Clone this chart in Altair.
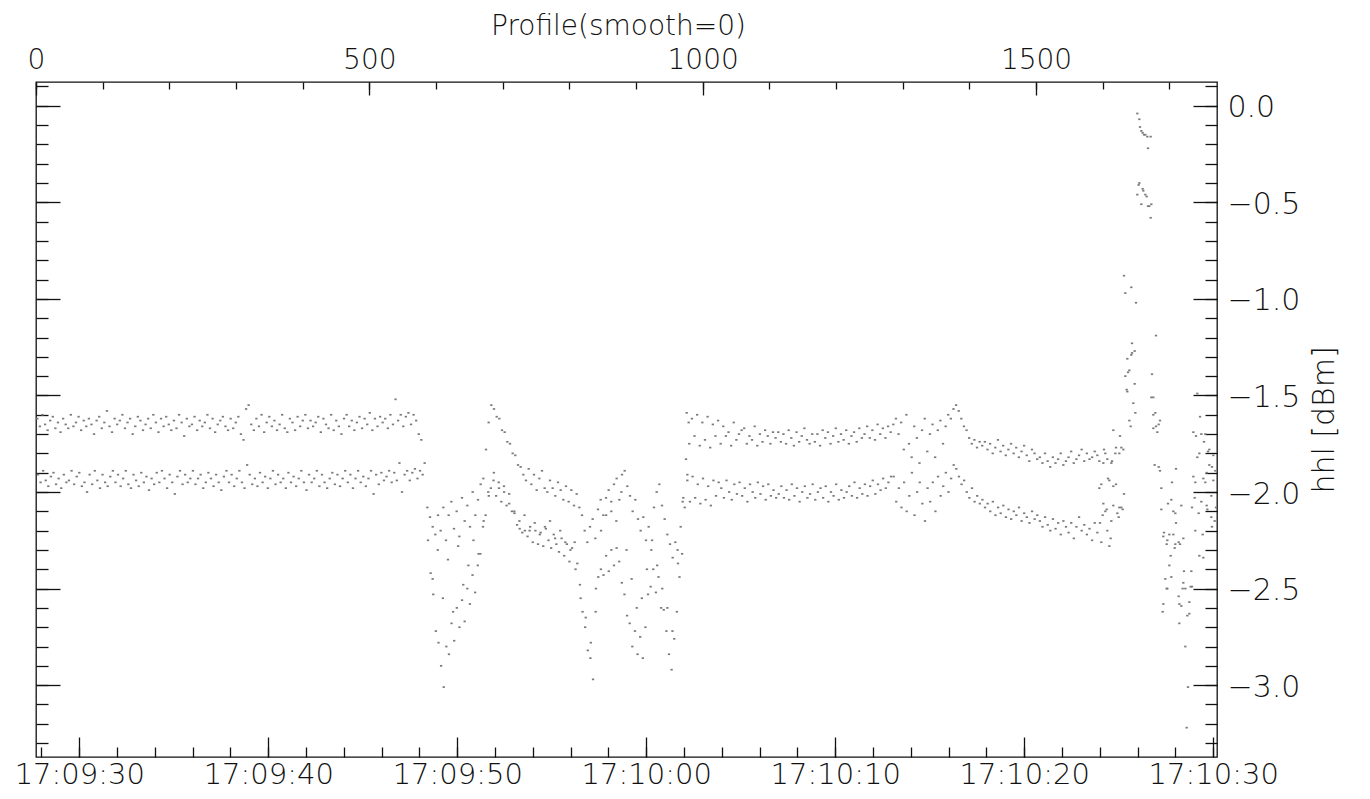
import altair as alt
import numpy as np
import pandas as pd

# ---------------- data (hhl in dBm) ----------------
# Segment A: two interleaved bands, profiles ~2..580
A_up = [-1.62,-1.66,-1.60,-1.65,-1.68,-1.63,-1.61,-1.67,-1.64,-1.69,-1.62,-1.65,-1.67,-1.60,-1.66,
        -1.64,-1.61,-1.68,-1.63,-1.66,-1.62,-1.65,-1.70,-1.63,-1.61,-1.67,-1.64,-1.58,-1.66,-1.69,
        -1.62,-1.65,-1.63,-1.60,-1.67,-1.64,-1.62,-1.70,-1.66,-1.61,-1.63,-1.68,-1.65,-1.62,-1.67,
        -1.60,-1.64,-1.69,-1.62,-1.66,-1.61,-1.65,-1.68,-1.63,-1.67,-1.60,-1.64,-1.71,-1.62,-1.66,
        -1.65,-1.61,-1.68,-1.63,-1.66,-1.64,-1.60,-1.67,-1.62,-1.69,-1.65,-1.63,-1.61,-1.66,-1.68,
        -1.62,-1.67,-1.64,-1.61,-1.70,-1.73,-1.57,-1.55,-1.65,-1.68,-1.62,-1.66,-1.60,-1.69,-1.64,
        -1.61,-1.66,-1.63,-1.68,-1.65,-1.60,-1.67,-1.69,-1.62,-1.64,-1.68,-1.61,-1.66,-1.63,-1.60,
        -1.67,-1.63,-1.66,-1.64,-1.61,-1.69,-1.62,-1.65,-1.67,-1.60,-1.68,-1.63,-1.66,-1.70,-1.62,
        -1.60,-1.66,-1.63,-1.68,-1.64,-1.61,-1.67,-1.62,-1.65,-1.59,-1.68,-1.62,-1.66,-1.61,-1.64,
        -1.62,-1.67,-1.60,-1.65,-1.52,-1.63,-1.60,-1.66,-1.61,-1.59,-1.65,-1.60,-1.63,-1.70,-1.73]
A_lo = [-1.91,-1.95,-1.89,-1.94,-1.97,-1.92,-1.90,-1.96,-1.93,-1.98,-1.91,-1.95,-1.94,-1.89,-1.96,
        -1.92,-1.90,-1.97,-1.95,-2.00,-1.91,-1.96,-1.89,-1.94,-1.98,-1.91,-1.95,-1.97,-1.92,-1.89,
        -1.95,-1.91,-1.97,-1.93,-1.89,-1.96,-1.98,-1.91,-1.94,-1.97,-1.90,-1.95,-1.92,-1.99,-1.93,
        -1.96,-1.90,-1.95,-1.89,-1.93,-1.98,-1.91,-1.95,-2.01,-1.92,-1.89,-1.96,-1.91,-1.95,-1.93,
        -1.89,-1.96,-1.93,-1.91,-1.98,-1.95,-1.90,-1.93,-1.97,-1.91,-1.95,-1.99,-1.92,-1.89,-1.95,
        -1.91,-1.97,-1.93,-1.89,-1.95,-1.98,-1.86,-1.91,-1.96,-1.93,-1.97,-1.90,-1.95,-1.92,-1.98,
        -1.93,-1.89,-1.96,-1.91,-1.95,-1.93,-1.98,-1.90,-1.95,-1.92,-1.97,-1.93,-1.89,-1.95,-1.99,
        -1.91,-1.95,-1.93,-1.89,-1.97,-1.91,-1.95,-1.98,-1.93,-1.90,-1.96,-1.91,-1.97,-1.93,-1.89,
        -1.95,-1.91,-1.98,-1.93,-1.89,-1.95,-1.92,-1.97,-1.93,-1.89,-2.01,-1.91,-1.96,-1.90,-1.94,
        -1.92,-1.89,-1.95,-1.90,-1.94,-1.85,-2.00,-1.91,-1.89,-1.94,-1.90,-1.88,-1.93,-1.89,-1.91]

# Segment B: disturbed part, profiles ~583..979
B_up = [-1.85,-2.08,-2.13,-2.18,-2.22,-2.12,
        -2.20,-2.08,-2.25,-2.12,-2.05,-2.19,-2.10,-2.23,-2.03,-2.15,-2.07,-2.18,-2.00,-2.12,-2.04,
        -1.96,-1.93,-1.78,-1.64,-1.55,
        -1.57,-1.61,-1.62,-1.68,-1.69,-1.74,-1.75,-1.80,-1.81,-1.86,-1.87,
        -1.91,-1.94,-1.88,-1.96,-1.91,-1.99,-1.93,-1.89,-1.98,-2.00,-1.94,-1.98,-2.02,-1.95,-1.99,
        -2.04,-1.97,-2.05,-1.99,-2.07,-2.01,-2.08,
        -2.12,-2.20,-2.26,-2.18,-2.14,-2.24,-2.09,-2.04,
        -2.12,-2.03,-1.99,-2.10,-1.96,-1.93,-2.04,-1.91,-1.89,
        -1.97,-2.02,-2.10,-2.04,-2.14,-2.20,-2.13,-2.25,-2.18,-2.30,
        -2.08,-2.00,-1.96,-2.07,-2.14,-2.22,
        -2.27,-2.34,-2.26,-2.37,-2.18,-2.03,-1.83,-1.64]
B_lo = [-2.25,-2.42,-2.53,-2.72,-2.78,-2.90,-3.01,
        -2.80,-2.84,-2.68,-2.77,-2.60,-2.70,-2.56,-2.67,-2.50,-2.58,-2.43,-2.52,-2.38,
        -2.32,-2.18,-2.12,-2.00,-1.98,
        -1.94,-2.02,-1.95,-2.05,-1.97,-2.07,-2.01,-2.10,-2.11,
        -2.17,-2.19,-2.21,-2.20,-2.23,-2.18,-2.26,-2.20,-2.27,-2.21,-2.28,-2.19,-2.25,-2.29,-2.22,
        -2.27,-2.31,-2.24,-2.33,-2.27,-2.36,-2.29,-2.26,-2.37,
        -2.48,-2.62,-2.70,-2.82,-2.86,-2.97,
        -2.62,-2.44,-2.40,-2.43,-2.33,-2.41,-2.30,-2.38,-2.29,
        -2.36,-2.47,-2.53,-2.64,-2.68,-2.80,-2.72,-2.84,-2.75,-2.86,-2.70,
        -2.53,-2.49,-2.40,-2.52,-2.44,-2.60,-2.61,
        -2.72,-2.84,-2.92,-2.76,-2.62,-2.44,-2.32,-2.08,-1.91]
B_mid = [-2.45,-2.30,-2.55,-2.35,-2.62,-2.28,-2.48,-2.38,-2.25,-2.32,
         -2.15,-2.02,-1.90,-1.98,-2.00,-2.06,-2.10,-2.15,
         -2.12,-2.20,-2.16,-2.22,-2.18,-2.15,-2.24,-2.20,-2.26,-2.30,
         -2.40,-2.55,-2.65,-2.78,-2.50,
         -2.20,-2.12,-2.05,-2.15,-2.00,
         -2.30,-2.45,-2.60,-2.55,-2.40,
         -2.25,-2.38,-2.50,-2.60,-2.72,
         -2.30,-2.05]

# Segment C: two bands again, profiles ~976..1592
C_up = [-1.59,-1.75,-1.62,-1.71,-1.60,-1.76,-1.64,-1.73,-1.61,-1.77,-1.65,-1.71,-1.63,
        -1.75,-1.66,-1.71,-1.69,-1.76,-1.64,-1.73,-1.70,-1.68,-1.67,-1.75,-1.71,-1.73,-1.66,-1.76,
        -1.70,-1.74,-1.68,-1.71,-1.75,-1.69,-1.72,
        -1.69,-1.74,-1.70,-1.75,-1.68,-1.72,-1.76,-1.69,-1.74,-1.71,-1.67,-1.73,-1.75,-1.70,-1.74,
        -1.70,-1.76,-1.68,-1.72,-1.69,-1.75,-1.71,-1.67,-1.74,-1.70,-1.73,-1.68,-1.75,-1.71,-1.69,
        -1.74,-1.67,-1.72,-1.70,-1.66,-1.72,-1.68,-1.73,-1.65,-1.70,-1.67,-1.72,-1.66,-1.69,
        -1.65,-1.62,-1.70,-1.64,-1.78,-1.60,-1.75,-1.82,-1.66,-1.72,-1.85,-1.68,-1.62,-1.79,
        -1.70,-1.65,-1.82,-1.68,-1.63,-1.75,-1.66,-1.60,-1.62,-1.57,-1.55,-1.58,
        -1.62,-1.66,-1.68,-1.72,-1.75,-1.73,-1.77,-1.74,
        -1.76,-1.74,-1.78,-1.75,-1.80,-1.77,-1.73,-1.79,-1.76,-1.81,-1.78,-1.75,-1.80,-1.77,-1.82,
        -1.79,-1.76,-1.81,-1.84,-1.78,-1.80,-1.83,
        -1.82,-1.85,-1.80,-1.84,-1.87,-1.82,-1.85,-1.83,-1.80,-1.86,-1.84,-1.82,-1.79,-1.85,-1.83,
        -1.81,-1.78,-1.84,-1.80,-1.83,-1.82,-1.79,-1.81]
C_lo = [-1.94,-2.05,-1.92,-2.03,-1.96,-2.06,-1.93,-2.04,-1.97,-2.07,-1.94,-2.02,-1.95,
        -1.98,-2.03,-1.94,-2.00,-2.04,-1.96,-2.01,-1.95,-2.02,-1.98,-2.05,-1.96,-2.00,-2.03,-1.95,
        -2.01,-1.97,-2.04,-1.96,-2.02,-1.99,-2.03,
        -2.01,-1.97,-2.03,-1.99,-2.04,-1.96,-2.02,-1.98,-2.05,-2.00,-1.97,-2.03,-2.01,-1.96,-2.04,
        -2.00,-1.98,-2.03,-1.97,-2.05,-2.00,-2.02,-1.96,-2.04,-1.99,-2.03,-2.00,-1.97,-2.02,-1.95,
        -2.03,-1.98,-2.01,-1.96,-2.02,-1.97,-1.94,-2.01,-1.96,-1.99,-1.93,-1.98,-1.95,-1.92,
        -1.92,-2.05,-1.98,-2.08,-1.95,-2.10,-2.02,-1.90,-2.12,-2.00,-1.95,-2.06,-2.15,-1.98,
        -2.05,-1.95,-2.10,-1.92,-2.02,-1.97,-1.90,-2.00,-1.93,-1.86,-1.88,-1.92,
        -1.96,-1.94,-2.00,-2.03,-1.98,-2.05,-2.02,-2.06,
        -2.04,-2.08,-2.06,-2.10,-2.05,-2.12,-2.08,-2.11,-2.07,-2.13,-2.09,-2.14,-2.10,-2.12,-2.08,
        -2.15,-2.11,-2.13,-2.16,-2.10,-2.14,-2.12,
        -2.15,-2.18,-2.13,-2.17,-2.20,-2.14,-2.19,-2.16,-2.22,-2.15,-2.18,-2.21,-2.16,-2.24,-2.18,
        -2.13,-2.20,-2.17,-2.22,-2.19,-2.25,-2.16,-2.21]

# Segment D: the spike at the end, (profile, hhl) pairs
D_points = [
    (1652,-0.04),(1655,-0.07),(1656,-0.11),(1658,-0.13),(1660,-0.14),(1662,-0.15),(1664,-0.15),
    (1667,-0.16),(1672,-0.16),(1668,-0.22),
    (1654,-0.41),(1655,-0.40),(1660,-0.43),(1661,-0.44),(1652,-0.46),(1664,-0.46),(1666,-0.47),
    (1658,-0.51),(1668,-0.52),(1670,-0.52),(1673,-0.51),(1672,-0.58),
    (1632,-0.88),(1643,-0.94),(1634,-0.97),(1650,-1.02),(1680,-1.19),(1644,-1.23),(1644,-1.28),
    (1648,-1.27),(1643,-1.29),(1637,-1.31),(1638,-1.38),(1640,-1.37),(1634,-1.40),(1674,-1.39),
    (1648,-1.44),(1636,-1.47),(1637,-1.48),(1673,-1.51),(1676,-1.51),(1646,-1.54),(1649,-1.59),
    (1679,-1.59),(1686,-1.63),(1742,-1.49),(1746,-1.61),
    (1676,-1.60),(1684,-1.65),(1680,-1.66),(1676,-1.67),(1682,-1.69),(1640,-1.63),(1642,-1.66),
    (1616,-1.68),(1626,-1.71),(1736,-1.69),(1740,-1.71),(1748,-1.70),(1754,-1.70),(1752,-1.74),
    (1602,-1.78),(1604,-1.80),(1620,-1.77),(1628,-1.77),(1631,-1.78),(1619,-1.80),(1625,-1.80),
    (1595,-1.84),(1601,-1.85),(1607,-1.83),(1613,-1.85),(1614,-1.84),
    (1760,-1.78),(1758,-1.79),(1766,-1.81),(1745,-1.80),(1742,-1.82),
    (1678,-1.86),(1684,-1.87),(1686,-1.89),(1710,-1.88),
    (1760,-1.86),(1764,-1.87),(1756,-1.90),(1769,-1.89),
    (1608,-1.93),(1610,-1.94),(1598,-1.96),(1595,-1.98),(1616,-1.97),(1620,-1.96),
    (1688,-1.98),(1704,-1.95),(1736,-1.92),(1739,-1.95),(1754,-1.95),(1751,-1.93),(1766,-1.94),
    (1632,-2.01),(1738,-2.03),(1748,-2.05),(1763,-2.02),
    (1601,-2.06),(1606,-2.09),(1616,-2.07),(1604,-2.10),(1628,-2.08),(1625,-2.08),(1630,-2.09),
    (1622,-2.11),(1600,-2.12),(1624,-2.13),
    (1698,-2.06),(1703,-2.04),(1718,-2.07),(1688,-2.09),(1706,-2.10),(1709,-2.11),
    (1734,-2.08),(1744,-2.11),(1756,-2.07),(1757,-2.09),(1770,-2.08),(1763,-2.13),(1768,-2.15),
    (1764,-2.18),
    (1613,-2.15),(1607,-2.20),(1596,-2.16),(1598,-2.26),(1612,-2.24),(1610,-2.28),
    (1710,-2.16),
    (1692,-2.21),(1691,-2.23),(1700,-2.22),(1706,-2.22),(1721,-2.24),(1697,-2.25),(1696,-2.27),
    (1709,-2.27),(1714,-2.26),(1716,-2.27),(1708,-2.29),
    (1739,-2.20),(1750,-2.22),(1745,-2.33),(1751,-2.34),
    (1702,-2.33),(1700,-2.38),(1703,-2.44),(1694,-2.45),(1696,-2.50),(1697,-2.50),(1714,-2.54),
    (1722,-2.41),(1733,-2.41),
    (1721,-2.47),(1720,-2.50),(1724,-2.50),(1732,-2.49),(1734,-2.49),(1730,-2.57),(1715,-2.58),
    (1718,-2.59),
    (1691,-2.58),(1690,-2.62),(1727,-2.64),(1730,-2.63),(1715,-2.68),(1724,-2.80),(1728,-3.01),
    (1726,-3.22),
]

# profile ranges covered by each sampled band
TRACES = [
    (A_up, 2, 578), (A_lo, 3, 580),
    (B_up, 583, 979), (B_lo, 588, 977), (B_mid, 595, 970),
    (C_up, 976, 1592), (C_lo, 977, 1592),
]

# axis ticks
TOP_MAJOR = [0, 500, 1000, 1500]
TOP_MINOR = list(range(0, 1800, 100))
SEC_MAJOR = list(range(570, 631, 10))      # seconds after 17:00:00
SEC_MINOR = list(range(568, 631, 2))
Y_MAJOR = [-3.0, -2.5, -2.0, -1.5, -1.0, -0.5, 0.0]
Y_MINOR = [round(-3.3 + 0.1 * i, 1) for i in range(35)]

X_DOM = [0, 1771.5]
SEC_DOM = [567.71, 630.2]
Y_DOM = [-3.372, 0.123]

# ---------------- build table ----------------
rows = []
for vals, p0, p1 in TRACES:
    for p, v in zip(np.linspace(p0, p1, len(vals)), vals):
        rows.append((float(p), float(v)))
rows += [(float(p), float(v)) for p, v in D_points]
df = pd.DataFrame(rows, columns=["profile", "hhl"])
anchor = pd.DataFrame({"profile": [885.0], "sec": [600.0], "hhl": [-1.6]})

FONT = "DejaVu Sans"
FW = 200
INK = "#111111"
common = dict(domain=False, grid=False, tickColor=INK, tickWidth=1.3,
              labelFont=FONT, labelFontWeight=FW, labelFontSize=30, labelColor=INK,
              titleFont=FONT, titleFontWeight=FW, titleFontSize=30, titleColor=INK,
              labelFlush=False, labelOverlap=False)
bottom_common = dict(common, labelFontSize=29)
top_common = dict(common, labelFontSize=28, titleFontSize=28)

XS = alt.Scale(domain=X_DOM, nice=False, zero=False)
TS = alt.Scale(domain=SEC_DOM, nice=False, zero=False)
YS = alt.Scale(domain=Y_DOM, nice=False, zero=False)

ax_top_major = alt.Axis(orient="top", values=TOP_MAJOR, offset=-13, tickSize=13, labelPadding=8,
                        format="d", title="Profile(smooth=0)", titleBaseline="alphabetic",
                        titleX=582, titleY=-60.5, **top_common)
ax_top_minor = alt.Axis(orient="top", values=TOP_MINOR, offset=-7, tickSize=7, labels=False,
                        title=None, **common)
time_expr = ("'17:' + (floor(datum.value/60) < 10 ? '0' : '') + floor(datum.value/60) + ':' + "
             "((datum.value % 60) < 10 ? '0' : '') + (datum.value % 60)")
ax_bot_major = alt.Axis(orient="bottom", values=SEC_MAJOR, offset=-20, tickSize=20, labelPadding=3,
                        labelExpr=time_expr, title=None, **bottom_common)
ax_bot_minor = alt.Axis(orient="bottom", values=SEC_MINOR, offset=-10, tickSize=10, labels=False,
                        title=None, **common)
ax_right_major = alt.Axis(orient="right", values=Y_MAJOR, offset=-24, tickSize=24, labelPadding=10,
                          format=".1f", labelAlign="left", labelBaseline="middle", labelOffset=2,
                          title="hhl [dBm]", titleAngle=270, titleBaseline="top", titlePadding=10,
                          **common)
ax_right_minor = alt.Axis(orient="right", values=Y_MINOR, offset=-12, tickSize=12, labels=False,
                          title=None, **common)
ax_left_major = alt.Axis(orient="left", values=Y_MAJOR, offset=-24, tickSize=24, labels=False,
                         title=None, **common)
ax_left_minor = alt.Axis(orient="left", values=Y_MINOR, offset=-12, tickSize=12, labels=False,
                         title=None, **common)

DOT = "M-1,-0.75H1V0.75H-1Z"

points = alt.Chart(df).mark_point(shape=DOT, filled=True, size=5.3, color="#7a7a7a", opacity=1).encode(
    x=alt.X("profile:Q", scale=XS, axis=ax_top_major),
    y=alt.Y("hhl:Q", scale=YS, axis=ax_right_major),
)
minor_a = alt.Chart(anchor).mark_point(opacity=0).encode(
    x=alt.X("profile:Q", scale=XS, axis=ax_top_minor),
    y=alt.Y("hhl:Q", scale=YS, axis=ax_right_minor),
)
time_major = alt.Chart(anchor).mark_point(opacity=0).encode(
    x=alt.X("sec:Q", scale=TS, axis=ax_bot_major),
    y=alt.Y("hhl:Q", scale=YS, axis=ax_left_major),
)
time_minor = alt.Chart(anchor).mark_point(opacity=0).encode(
    x=alt.X("sec:Q", scale=TS, axis=ax_bot_minor),
    y=alt.Y("hhl:Q", scale=YS, axis=ax_left_minor),
)

chart = (
    alt.layer(time_minor, time_major, minor_a, points)
    .resolve_scale(x="independent", y="independent")
    .properties(width=1181, height=675,
                padding={"left": 28, "top": 74, "right": 145, "bottom": 34},
                autosize=alt.AutoSizeParams(type="none"))
    .configure(background="white")
    .configure_view(stroke=INK, strokeWidth=1.3)
)

chart.save("out.html", embed_options={"renderer": "svg", "actions": False})
